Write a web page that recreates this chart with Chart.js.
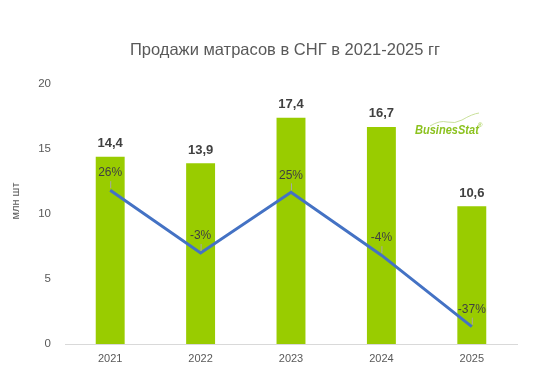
<!DOCTYPE html>
<html><head><meta charset="utf-8">
<script src="https://cdn.jsdelivr.net/npm/chart.js@4"></script>
<style>html,body{margin:0;padding:0;background:#fff}#w{width:555px;height:380px}</style>
</head><body><div id="w"><canvas id="c"></canvas></div>
<script>
const categories = ["2021","2022","2023","2024","2025"];
const sales = [14.4, 13.9, 17.4, 16.7, 10.6];
const growth = [26, -3, 25, -4, -37];
const yTicks = [0,5,10,15,20];
const titleText = "Продажи матрасов в СНГ в 2021-2025 гг";
const yTitle = "млн шт";
const FONT = "'Liberation Sans', Arial, sans-serif";

const labelsPlugin = {
  id: 'customLabels',
  afterDatasetsDraw(chart) {
    const ctx = chart.ctx;
    ctx.save();
    // title
    ctx.fillStyle = '#595959';
    ctx.font = '16.5px ' + FONT;
    ctx.textAlign = 'center'; ctx.textBaseline = 'middle';
    ctx.fillText(titleText, 285, 50);
    // y title
    ctx.save();
    ctx.translate(16, 201); ctx.rotate(-Math.PI/2);
    ctx.font = '11px ' + FONT; ctx.fillStyle = '#595959';
    ctx.fillText(yTitle, 0, 0);
    ctx.restore();
    // bar labels
    const bm = chart.getDatasetMeta(0);
    ctx.font = 'bold 13px ' + FONT; ctx.fillStyle = '#404040';
    bm.data.forEach((el, i) => {
      ctx.fillText(String(sales[i]).replace('.', ','), el.x, el.y - 13);
    });
    // line labels
    const lm = chart.getDatasetMeta(1);
    lm.data.forEach((el, i) => {
      ctx.strokeStyle = '#a6a6a6'; ctx.lineWidth = 1;
      ctx.beginPath(); ctx.moveTo(el.x + 0.5, el.y - 9); ctx.lineTo(el.x + 0.5, el.y - 2); ctx.stroke();
      ctx.font = '12px ' + FONT; ctx.fillStyle = '#404040';
      ctx.fillText(growth[i] + '%', el.x, el.y - 17);
    });
    // logo
    ctx.font = 'italic bold 12px ' + FONT;
    ctx.fillStyle = '#8cc21f';
    ctx.textAlign = 'left';
    ctx.save();
    ctx.translate(415, 131); ctx.scale(0.92, 1);
    ctx.fillText('BusinesStat', 0, 0);
    ctx.restore();
    ctx.font = '6px ' + FONT;
    ctx.fillText('®', 478, 125);
    ctx.strokeStyle = '#c9e09a'; ctx.lineWidth = 1;
    ctx.beginPath();
    ctx.moveTo(430, 126);
    ctx.quadraticCurveTo(440, 120, 447, 122);
    ctx.quadraticCurveTo(455, 124, 462, 120);
    ctx.quadraticCurveTo(472, 114, 479, 113);
    ctx.stroke();
    ctx.restore();
  }
};

new Chart(document.getElementById('c'), {
  data: {
    labels: categories,
    datasets: [
      { type: 'bar', data: sales, backgroundColor: '#99cc00', barPercentage: 0.32, categoryPercentage: 1, yAxisID: 'y', order: 2 },
      { type: 'line', data: growth, borderColor: '#4472c4', borderWidth: 3, pointRadius: 0, tension: 0, yAxisID: 'y2', order: 1 }
    ]
  },
  options: {
    responsive: true, maintainAspectRatio: false, animation: false,
    layout: { padding: { left: 0, right: 38, top: 84, bottom: 0 } },
    plugins: { legend: { display: false }, tooltip: { enabled: false }, title: { display: false } },
    scales: {
      x: {
        grid: { display: false, drawTicks: false },
        border: { color: '#d9d9d9', width: 1 },
        ticks: { color: '#595959', font: { size: 11, family: FONT }, padding: 8 },
        afterFit(s) { s.height = 36; }
      },
      y: {
        min: 0, max: 20,
        afterBuildTicks(s) { s.ticks = yTicks.map(v => ({ value: v })); },
        grid: { display: false, drawTicks: false },
        border: { display: false },
        ticks: { color: '#595959', font: { size: 11.5, family: FONT }, padding: 14 },
        afterFit(s) { s.width = 65; }
      },
      y2: { display: false, min: -45, max: 75 }
    }
  },
  plugins: [labelsPlugin]
});
</script></body></html>
